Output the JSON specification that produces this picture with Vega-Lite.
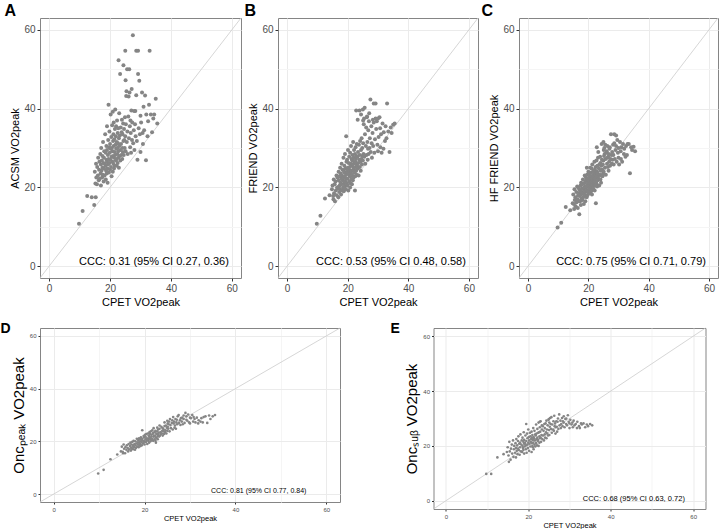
{
"$schema": "https://vega.github.io/schema/vega-lite/v6.json",
"padding": {"left": 0, "top": 2, "right": 0, "bottom": 0},
"background": "white",
"spacing": 13,
"config": {
  "font": "Liberation Sans",
  "view": {"stroke": "#858585", "strokeWidth": 1},
  "axis": {"domain": false, "labelColor": "#4d4d4d", "titleColor": "#000000", "titleFontWeight": "normal", "tickColor": "#333333", "grid": true, "labelFont": "Liberation Sans", "titleFont": "Liberation Sans"},
  "title": {"fontWeight": "bold", "color": "#000000", "font": "Liberation Sans"}
},
"datasets": {"d": [
{"cpet":9.8,"acsm":10.8,"friend":10.8,"hf":9.8,"oncpeak":7.8,"oncsub":9.8},
{"cpet":11.0,"acsm":14.0,"friend":12.8,"hf":11.0,"oncpeak":9.2,"oncsub":9.8},
{"cpet":12.5,"acsm":17.8,"friend":17.2,"hf":15.0,"oncpeak":13.2,"oncsub":15.8},
{"cpet":14.0,"acsm":17.5,"friend":18.0,"hf":14.2,"oncpeak":15.0,"oncsub":17.0},
{"cpet":14.8,"acsm":15.5,"friend":19.5,"hf":16.0,"oncpeak":16.2,"oncsub":17.8},
{"cpet":15.3,"acsm":17.5,"friend":17.0,"hf":14.5,"oncpeak":15.5,"oncsub":14.2},
{"cpet":15.0,"acsm":24.0,"friend":20.5,"hf":18.2,"oncpeak":18.0,"oncsub":19.5},
{"cpet":15.2,"acsm":21.0,"friend":17.8,"hf":15.8,"oncpeak":16.0,"oncsub":16.5},
{"cpet":15.4,"acsm":26.0,"friend":22.0,"hf":19.5,"oncpeak":18.8,"oncsub":21.5},
{"cpet":15.5,"acsm":22.5,"friend":18.5,"hf":16.8,"oncpeak":17.2,"oncsub":18.0},
{"cpet":15.7,"acsm":20.8,"friend":20.8,"hf":17.5,"oncpeak":15.5,"oncsub":15.0},
{"cpet":15.8,"acsm":25.2,"friend":16.5,"hf":15.2,"oncpeak":17.8,"oncsub":19.0},
{"cpet":16.0,"acsm":23.0,"friend":21.5,"hf":18.8,"oncpeak":16.8,"oncsub":20.5},
{"cpet":16.1,"acsm":27.5,"friend":19.2,"hf":16.2,"oncpeak":18.5,"oncsub":17.2},
{"cpet":16.3,"acsm":21.8,"friend":23.0,"hf":20.2,"oncpeak":17.5,"oncsub":22.0},
{"cpet":16.4,"acsm":24.5,"friend":18.0,"hf":17.0,"oncpeak":16.2,"oncsub":16.0},
{"cpet":16.5,"acsm":26.5,"friend":20.0,"hf":14.8,"oncpeak":19.0,"oncsub":18.8},
{"cpet":16.6,"acsm":22.2,"friend":22.5,"hf":18.0,"oncpeak":17.0,"oncsub":20.0},
{"cpet":16.8,"acsm":28.5,"friend":19.8,"hf":19.8,"oncpeak":18.2,"oncsub":17.5},
{"cpet":16.9,"acsm":23.5,"friend":17.5,"hf":16.5,"oncpeak":19.5,"oncsub":21.0},
{"cpet":17.0,"acsm":25.8,"friend":21.8,"hf":13.2,"oncpeak":17.6,"oncsub":19.2},
{"cpet":17.0,"acsm":20.5,"friend":24.0,"hf":18.5,"oncpeak":16.5,"oncsub":15.8},
{"cpet":17.1,"acsm":30.0,"friend":20.2,"hf":17.8,"oncpeak":18.8,"oncsub":22.5},
{"cpet":17.2,"acsm":24.2,"friend":18.8,"hf":19.2,"oncpeak":17.2,"oncsub":18.2},
{"cpet":17.3,"acsm":26.8,"friend":22.8,"hf":16.5,"oncpeak":19.8,"oncsub":20.2},
{"cpet":17.4,"acsm":22.5,"friend":20.5,"hf":20.5,"oncpeak":18.0,"oncsub":17.0},
{"cpet":17.5,"acsm":28.0,"friend":25.0,"hf":18.2,"oncpeak":17.0,"oncsub":21.8},
{"cpet":17.5,"acsm":25.0,"friend":19.5,"hf":15.5,"oncpeak":18.6,"oncsub":19.0},
{"cpet":17.6,"acsm":23.2,"friend":21.2,"hf":21.2,"oncpeak":20.2,"oncsub":23.5},
{"cpet":17.7,"acsm":31.5,"friend":23.5,"hf":18.8,"oncpeak":17.8,"oncsub":18.5},
{"cpet":17.8,"acsm":26.2,"friend":18.2,"hf":17.2,"oncpeak":19.0,"oncsub":20.8},
{"cpet":17.9,"acsm":21.5,"friend":22.2,"hf":19.8,"oncpeak":16.8,"oncsub":16.8},
{"cpet":18.0,"acsm":27.5,"friend":26.0,"hf":16.8,"oncpeak":18.5,"oncsub":21.2},
{"cpet":18.0,"acsm":24.8,"friend":20.8,"hf":20.8,"oncpeak":20.0,"oncsub":19.5},
{"cpet":18.1,"acsm":29.2,"friend":23.0,"hf":18.5,"oncpeak":17.5,"oncsub":24.2},
{"cpet":18.2,"acsm":23.0,"friend":19.2,"hf":22.0,"oncpeak":19.2,"oncsub":18.0},
{"cpet":18.3,"acsm":26.0,"friend":24.5,"hf":17.5,"oncpeak":21.0,"oncsub":20.5},
{"cpet":18.4,"acsm":33.5,"friend":21.8,"hf":19.5,"oncpeak":18.0,"oncsub":22.0},
{"cpet":18.5,"acsm":25.5,"friend":20.0,"hf":15.8,"oncpeak":19.6,"oncsub":17.8},
{"cpet":18.6,"acsm":22.0,"friend":27.5,"hf":21.0,"oncpeak":18.8,"oncsub":20.0},
{"cpet":18.6,"acsm":28.8,"friend":22.5,"hf":18.2,"oncpeak":20.5,"oncsub":23.0},
{"cpet":18.7,"acsm":24.2,"friend":19.0,"hf":20.0,"oncpeak":17.8,"oncsub":19.2},
{"cpet":18.8,"acsm":30.5,"friend":24.0,"hf":23.0,"oncpeak":19.5,"oncsub":21.5},
{"cpet":18.8,"acsm":27.0,"friend":21.0,"hf":17.8,"oncpeak":21.2,"oncsub":18.5},
{"cpet":18.9,"acsm":23.5,"friend":25.5,"hf":19.0,"oncpeak":18.5,"oncsub":25.0},
{"cpet":19.0,"acsm":35.5,"friend":22.8,"hf":21.5,"oncpeak":20.0,"oncsub":20.8},
{"cpet":19.0,"acsm":26.5,"friend":20.2,"hf":16.5,"oncpeak":19.0,"oncsub":17.2},
{"cpet":19.0,"acsm":29.5,"friend":23.8,"hf":20.2,"oncpeak":20.8,"oncsub":22.2},
{"cpet":19.1,"acsm":24.8,"friend":28.5,"hf":18.8,"oncpeak":18.2,"oncsub":19.8},
{"cpet":19.2,"acsm":21.2,"friend":21.5,"hf":22.5,"oncpeak":21.5,"oncsub":21.0},
{"cpet":19.3,"acsm":28.2,"friend":24.8,"hf":20.0,"oncpeak":19.8,"oncsub":23.8},
{"cpet":19.4,"acsm":32.0,"friend":22.2,"hf":17.5,"oncpeak":20.5,"oncsub":18.8},
{"cpet":19.4,"acsm":25.8,"friend":19.5,"hf":21.8,"oncpeak":18.5,"oncsub":20.2},
{"cpet":19.5,"acsm":41.0,"friend":33.0,"hf":25.0,"oncpeak":24.2,"oncsub":28.0},
{"cpet":19.5,"acsm":27.2,"friend":23.2,"hf":19.2,"oncpeak":21.0,"oncsub":21.8},
{"cpet":19.6,"acsm":23.8,"friend":26.5,"hf":23.2,"oncpeak":19.2,"oncsub":17.5},
{"cpet":19.7,"acsm":30.2,"friend":21.0,"hf":18.0,"oncpeak":20.2,"oncsub":24.5},
{"cpet":19.8,"acsm":26.2,"friend":24.0,"hf":20.8,"oncpeak":22.0,"oncsub":20.5},
{"cpet":19.8,"acsm":34.2,"friend":27.0,"hf":22.2,"oncpeak":19.5,"oncsub":22.8},
{"cpet":19.9,"acsm":28.8,"friend":20.5,"hf":19.0,"oncpeak":21.5,"oncsub":19.2},
{"cpet":20.0,"acsm":24.5,"friend":25.0,"hf":21.2,"oncpeak":20.0,"oncsub":26.0},
{"cpet":20.0,"acsm":31.0,"friend":22.2,"hf":24.0,"oncpeak":18.8,"oncsub":21.2},
{"cpet":20.1,"acsm":27.0,"friend":29.5,"hf":20.2,"oncpeak":22.5,"oncsub":23.2},
{"cpet":20.2,"acsm":38.5,"friend":23.8,"hf":18.5,"oncpeak":20.8,"oncsub":18.2},
{"cpet":20.2,"acsm":29.8,"friend":19.2,"hf":21.8,"oncpeak":21.8,"oncsub":22.0},
{"cpet":20.3,"acsm":25.2,"friend":26.2,"hf":23.5,"oncpeak":19.8,"oncsub":20.8},
{"cpet":20.4,"acsm":32.8,"friend":24.5,"hf":19.5,"oncpeak":22.8,"oncsub":24.8},
{"cpet":20.5,"acsm":27.8,"friend":21.5,"hf":22.8,"oncpeak":20.5,"oncsub":19.8},
{"cpet":20.5,"acsm":22.8,"friend":27.8,"hf":20.5,"oncpeak":21.2,"oncsub":23.5},
{"cpet":20.6,"acsm":30.0,"friend":23.0,"hf":25.0,"oncpeak":19.0,"oncsub":21.5},
{"cpet":20.7,"acsm":35.8,"friend":25.2,"hf":21.0,"oncpeak":23.0,"oncsub":22.5},
{"cpet":20.8,"acsm":26.5,"friend":20.0,"hf":18.8,"oncpeak":21.0,"oncsub":17.8},
{"cpet":20.8,"acsm":29.2,"friend":28.8,"hf":22.2,"oncpeak":20.2,"oncsub":25.2},
{"cpet":20.9,"acsm":39.2,"friend":24.2,"hf":20.0,"oncpeak":22.2,"oncsub":21.0},
{"cpet":20.9,"acsm":24.0,"friend":22.8,"hf":23.8,"oncpeak":20.8,"oncsub":23.0},
{"cpet":21.0,"acsm":31.8,"friend":26.0,"hf":21.5,"oncpeak":22.0,"oncsub":20.0},
{"cpet":21.0,"acsm":28.0,"friend":21.0,"hf":19.2,"oncpeak":19.5,"oncsub":24.0},
{"cpet":21.1,"acsm":33.5,"friend":30.5,"hf":24.8,"oncpeak":23.5,"oncsub":22.2},
{"cpet":21.1,"acsm":26.0,"friend":23.5,"hf":20.8,"oncpeak":21.5,"oncsub":19.5},
{"cpet":21.2,"acsm":30.5,"friend":25.5,"hf":22.8,"oncpeak":20.8,"oncsub":26.5},
{"cpet":21.2,"acsm":36.5,"friend":22.0,"hf":18.2,"oncpeak":22.8,"oncsub":21.2},
{"cpet":21.3,"acsm":27.5,"friend":27.2,"hf":21.2,"oncpeak":21.2,"oncsub":23.2},
{"cpet":21.3,"acsm":24.8,"friend":24.2,"hf":25.8,"oncpeak":20.0,"oncsub":18.8},
{"cpet":21.4,"acsm":32.2,"friend":20.8,"hf":20.5,"oncpeak":23.8,"oncsub":22.8},
{"cpet":21.5,"acsm":29.0,"friend":26.8,"hf":23.0,"oncpeak":21.8,"oncsub":20.5},
{"cpet":21.5,"acsm":25.5,"friend":23.0,"hf":21.8,"oncpeak":22.5,"oncsub":25.5},
{"cpet":21.6,"acsm":34.8,"friend":28.2,"hf":19.8,"oncpeak":20.5,"oncsub":22.0},
{"cpet":21.7,"acsm":28.2,"friend":21.8,"hf":24.2,"oncpeak":24.2,"oncsub":24.2},
{"cpet":21.7,"acsm":39.8,"friend":25.8,"hf":22.5,"oncpeak":21.0,"oncsub":19.8},
{"cpet":21.8,"acsm":30.8,"friend":31.5,"hf":20.8,"oncpeak":22.8,"oncsub":23.8},
{"cpet":21.9,"acsm":26.8,"friend":24.5,"hf":23.5,"oncpeak":20.2,"oncsub":27.8},
{"cpet":21.9,"acsm":33.0,"friend":22.5,"hf":21.2,"oncpeak":23.2,"oncsub":21.0},
{"cpet":22.0,"acsm":29.8,"friend":27.5,"hf":26.5,"oncpeak":21.8,"oncsub":24.5},
{"cpet":22.0,"acsm":35.5,"friend":25.0,"hf":22.0,"oncpeak":25.0,"oncsub":22.5},
{"cpet":22.1,"acsm":27.2,"friend":29.5,"hf":19.2,"oncpeak":22.0,"oncsub":20.2},
{"cpet":22.2,"acsm":31.5,"friend":23.8,"hf":24.5,"oncpeak":20.8,"oncsub":26.2},
{"cpet":22.2,"acsm":25.5,"friend":26.2,"hf":21.5,"oncpeak":23.5,"oncsub":23.0},
{"cpet":22.3,"acsm":37.0,"friend":24.0,"hf":23.2,"oncpeak":22.2,"oncsub":21.8},
{"cpet":22.4,"acsm":30.0,"friend":19.2,"hf":20.5,"oncpeak":20.2,"oncsub":24.8},
{"cpet":22.4,"acsm":28.5,"friend":28.5,"hf":25.2,"oncpeak":24.0,"oncsub":22.2},
{"cpet":22.5,"acsm":33.8,"friend":26.5,"hf":22.5,"oncpeak":21.5,"oncsub":28.5},
{"cpet":22.5,"acsm":26.2,"friend":22.8,"hf":16.0,"oncpeak":19.5,"oncsub":20.0},
{"cpet":22.6,"acsm":31.2,"friend":30.2,"hf":23.8,"oncpeak":23.0,"oncsub":25.0},
{"cpet":22.7,"acsm":29.2,"friend":25.2,"hf":21.0,"oncpeak":22.8,"oncsub":23.5},
{"cpet":22.7,"acsm":35.0,"friend":27.2,"hf":26.8,"oncpeak":21.2,"oncsub":21.2},
{"cpet":22.8,"acsm":52.3,"friend":39.5,"hf":30.2,"oncpeak":25.2,"oncsub":28.8},
{"cpet":22.8,"acsm":27.5,"friend":24.2,"hf":22.8,"oncpeak":23.8,"oncsub":26.8},
{"cpet":22.9,"acsm":32.5,"friend":28.0,"hf":24.0,"oncpeak":22.0,"oncsub":22.8},
{"cpet":22.9,"acsm":25.0,"friend":23.2,"hf":20.2,"oncpeak":20.8,"oncsub":25.2},
{"cpet":23.0,"acsm":38.8,"friend":26.0,"hf":23.5,"oncpeak":24.5,"oncsub":23.0},
{"cpet":23.0,"acsm":30.5,"friend":31.0,"hf":25.5,"oncpeak":22.5,"oncsub":29.0},
{"cpet":23.1,"acsm":28.0,"friend":25.5,"hf":21.8,"oncpeak":23.2,"oncsub":21.5},
{"cpet":23.2,"acsm":33.2,"friend":27.8,"hf":27.5,"oncpeak":21.8,"oncsub":24.0},
{"cpet":23.3,"acsm":48.8,"friend":37.2,"hf":29.0,"oncpeak":26.0,"oncsub":27.5},
{"cpet":23.3,"acsm":29.5,"friend":24.8,"hf":23.0,"oncpeak":24.8,"oncsub":26.0},
{"cpet":23.4,"acsm":26.8,"friend":29.0,"hf":22.2,"oncpeak":22.2,"oncsub":22.5},
{"cpet":23.5,"acsm":35.2,"friend":26.2,"hf":24.8,"oncpeak":23.5,"oncsub":27.2},
{"cpet":23.6,"acsm":31.0,"friend":23.0,"hf":20.5,"oncpeak":22.8,"oncsub":23.8},
{"cpet":23.7,"acsm":28.2,"friend":30.8,"hf":25.8,"oncpeak":25.5,"oncsub":25.5},
{"cpet":23.8,"acsm":34.0,"friend":27.0,"hf":23.2,"oncpeak":23.0,"oncsub":22.0},
{"cpet":23.9,"acsm":37.2,"friend":39.5,"hf":27.8,"oncpeak":24.0,"oncsub":28.0},
{"cpet":24.0,"acsm":30.0,"friend":25.2,"hf":22.0,"oncpeak":22.2,"oncsub":26.5},
{"cpet":24.0,"acsm":27.2,"friend":28.2,"hf":26.2,"oncpeak":25.0,"oncsub":24.2},
{"cpet":24.1,"acsm":33.5,"friend":31.8,"hf":24.2,"oncpeak":23.8,"oncsub":23.0},
{"cpet":24.2,"acsm":29.0,"friend":26.5,"hf":21.2,"oncpeak":24.5,"oncsub":28.2},
{"cpet":24.3,"acsm":36.2,"friend":24.2,"hf":25.5,"oncpeak":22.8,"oncsub":25.0},
{"cpet":24.4,"acsm":31.8,"friend":29.5,"hf":23.0,"oncpeak":25.8,"oncsub":22.8},
{"cpet":24.4,"acsm":51.0,"friend":38.5,"hf":31.0,"oncpeak":27.2,"oncsub":29.2},
{"cpet":24.5,"acsm":28.2,"friend":27.2,"hf":27.0,"oncpeak":23.5,"oncsub":26.0},
{"cpet":24.6,"acsm":34.8,"friend":32.5,"hf":24.5,"oncpeak":24.2,"oncsub":24.5},
{"cpet":24.7,"acsm":32.0,"friend":25.8,"hf":22.8,"oncpeak":26.0,"oncsub":27.5},
{"cpet":24.8,"acsm":30.0,"friend":30.0,"hf":25.8,"oncpeak":23.0,"oncsub":23.8},
{"cpet":24.9,"acsm":37.8,"friend":28.0,"hf":23.5,"oncpeak":25.2,"oncsub":29.5},
{"cpet":25.0,"acsm":54.7,"friend":39.8,"hf":31.5,"oncpeak":27.8,"oncsub":29.8},
{"cpet":25.0,"acsm":33.0,"friend":26.8,"hf":26.8,"oncpeak":24.0,"oncsub":25.8},
{"cpet":25.1,"acsm":47.2,"friend":37.0,"hf":29.5,"oncpeak":26.8,"oncsub":28.5},
{"cpet":25.1,"acsm":29.2,"friend":31.2,"hf":24.0,"oncpeak":25.5,"oncsub":24.0},
{"cpet":25.2,"acsm":36.0,"friend":28.5,"hf":28.0,"oncpeak":24.8,"oncsub":27.0},
{"cpet":25.3,"acsm":43.2,"friend":36.0,"hf":30.0,"oncpeak":26.5,"oncsub":30.2},
{"cpet":25.4,"acsm":44.4,"friend":37.5,"hf":28.5,"oncpeak":27.5,"oncsub":28.0},
{"cpet":25.5,"acsm":31.5,"friend":27.8,"hf":25.0,"oncpeak":23.8,"oncsub":26.2},
{"cpet":25.6,"acsm":50.0,"friend":40.2,"hf":30.8,"oncpeak":28.5,"oncsub":30.5},
{"cpet":25.7,"acsm":34.2,"friend":33.5,"hf":27.2,"oncpeak":26.2,"oncsub":24.8},
{"cpet":25.8,"acsm":28.5,"friend":26.0,"hf":23.2,"oncpeak":25.0,"oncsub":27.8},
{"cpet":26.0,"acsm":38.0,"friend":30.5,"hf":28.8,"oncpeak":27.0,"oncsub":26.0},
{"cpet":26.1,"acsm":43.1,"friend":35.2,"hf":29.2,"oncpeak":28.0,"oncsub":29.0},
{"cpet":26.2,"acsm":32.5,"friend":28.2,"hf":26.0,"oncpeak":24.5,"oncsub":25.5},
{"cpet":26.3,"acsm":50.0,"friend":37.8,"hf":30.5,"oncpeak":29.2,"oncsub":31.0},
{"cpet":26.4,"acsm":44.1,"friend":38.0,"hf":27.5,"oncpeak":26.8,"oncsub":27.2},
{"cpet":26.5,"acsm":35.5,"friend":31.5,"hf":25.2,"oncpeak":27.5,"oncsub":28.2},
{"cpet":26.6,"acsm":30.2,"friend":27.0,"hf":27.8,"oncpeak":25.2,"oncsub":24.5},
{"cpet":26.7,"acsm":37.0,"friend":29.8,"hf":24.2,"oncpeak":26.0,"oncsub":26.8},
{"cpet":26.8,"acsm":33.8,"friend":34.5,"hf":28.5,"oncpeak":28.5,"oncsub":29.0},
{"cpet":26.9,"acsm":28.8,"friend":28.5,"hf":26.5,"oncpeak":24.8,"oncsub":27.0},
{"cpet":27.0,"acsm":39.5,"friend":36.8,"hf":29.8,"oncpeak":27.2,"oncsub":25.2},
{"cpet":27.1,"acsm":45.0,"friend":38.8,"hf":30.2,"oncpeak":28.2,"oncsub":28.8},
{"cpet":27.2,"acsm":32.0,"friend":30.0,"hf":25.5,"oncpeak":26.5,"oncsub":30.0},
{"cpet":27.3,"acsm":36.5,"friend":32.5,"hf":27.2,"oncpeak":29.5,"oncsub":26.2},
{"cpet":27.5,"acsm":58.6,"friend":42.3,"hf":33.5,"oncpeak":30.0,"oncsub":31.5},
{"cpet":27.6,"acsm":31.2,"friend":29.0,"hf":28.2,"oncpeak":27.0,"oncsub":27.5},
{"cpet":27.8,"acsm":34.5,"friend":35.5,"hf":26.0,"oncpeak":28.0,"oncsub":29.2},
{"cpet":27.9,"acsm":39.4,"friend":31.2,"hf":29.0,"oncpeak":26.2,"oncsub":26.5},
{"cpet":28.0,"acsm":29.5,"friend":27.5,"hf":27.0,"oncpeak":28.8,"oncsub":28.0},
{"cpet":28.2,"acsm":36.0,"friend":33.8,"hf":30.8,"oncpeak":27.5,"oncsub":30.2},
{"cpet":28.3,"acsm":39.4,"friend":37.2,"hf":28.2,"oncpeak":29.0,"oncsub":27.2},
{"cpet":28.4,"acsm":33.0,"friend":30.5,"hf":25.8,"oncpeak":26.5,"oncsub":29.0},
{"cpet":28.6,"acsm":54.7,"friend":41.3,"hf":33.5,"oncpeak":29.8,"oncsub":30.8},
{"cpet":28.6,"acsm":43.4,"friend":36.5,"hf":31.2,"oncpeak":28.5,"oncsub":28.5},
{"cpet":28.8,"acsm":31.8,"friend":28.8,"hf":27.2,"oncpeak":27.0,"oncsub":26.8},
{"cpet":29.0,"acsm":27.0,"friend":32.2,"hf":29.5,"oncpeak":30.8,"oncsub":29.8},
{"cpet":29.2,"acsm":54.7,"friend":41.3,"hf":33.2,"oncpeak":29.5,"oncsub":30.0},
{"cpet":29.2,"acsm":48.8,"friend":37.5,"hf":30.5,"oncpeak":28.2,"oncsub":28.0},
{"cpet":29.4,"acsm":35.0,"friend":34.8,"hf":26.5,"oncpeak":27.8,"oncsub":27.5},
{"cpet":29.6,"acsm":47.1,"friend":36.8,"hf":32.0,"oncpeak":30.2,"oncsub":31.2},
{"cpet":29.8,"acsm":33.5,"friend":30.8,"hf":28.8,"oncpeak":27.2,"oncsub":28.8},
{"cpet":30.0,"acsm":38.2,"friend":37.5,"hf":30.0,"oncpeak":29.0,"oncsub":26.5},
{"cpet":30.0,"acsm":29.0,"friend":29.2,"hf":27.5,"oncpeak":26.8,"oncsub":28.2},
{"cpet":30.2,"acsm":36.5,"friend":32.8,"hf":25.8,"oncpeak":28.8,"oncsub":29.5},
{"cpet":30.5,"acsm":44.1,"friend":37.8,"hf":31.5,"oncpeak":30.0,"oncsub":27.8},
{"cpet":30.7,"acsm":33.8,"friend":35.0,"hf":29.2,"oncpeak":27.5,"oncsub":28.5},
{"cpet":30.8,"acsm":31.0,"friend":30.2,"hf":27.2,"oncpeak":29.2,"oncsub":26.8},
{"cpet":31.0,"acsm":40.5,"friend":33.5,"hf":30.2,"oncpeak":28.5,"oncsub":29.2},
{"cpet":31.2,"acsm":34.5,"friend":28.8,"hf":26.5,"oncpeak":27.2,"oncsub":27.5},
{"cpet":31.5,"acsm":43.3,"friend":36.2,"hf":31.0,"oncpeak":29.0,"oncsub":28.0},
{"cpet":31.8,"acsm":26.9,"friend":29.8,"hf":28.5,"oncpeak":26.8,"oncsub":26.5},
{"cpet":31.9,"acsm":38.5,"friend":34.0,"hf":29.8,"oncpeak":28.0,"oncsub":28.8},
{"cpet":32.3,"acsm":33.0,"friend":31.8,"hf":27.8,"oncpeak":27.5,"oncsub":27.2},
{"cpet":32.5,"acsm":36.8,"friend":35.5,"hf":30.5,"oncpeak":28.8,"oncsub":26.5},
{"cpet":32.8,"acsm":41.0,"friend":32.5,"hf":28.2,"oncpeak":27.2,"oncsub":28.2},
{"cpet":33.0,"acsm":54.7,"friend":41.3,"hf":31.0,"oncpeak":29.2,"oncsub":27.8},
{"cpet":33.4,"acsm":38.5,"friend":34.2,"hf":31.0,"oncpeak":29.5,"oncsub":28.2},
{"cpet":33.8,"acsm":34.0,"friend":29.0,"hf":23.6,"oncpeak":27.0,"oncsub":26.8},
{"cpet":34.2,"acsm":37.5,"friend":35.2,"hf":30.2,"oncpeak":29.8,"oncsub":27.8},
{"cpet":34.5,"acsm":38.5,"friend":33.8,"hf":29.5,"oncpeak":28.5,"oncsub":27.2},
{"cpet":35.0,"acsm":42.5,"friend":35.9,"hf":30.3,"oncpeak":29.5,"oncsub":28.0},
{"cpet":35.5,"acsm":36.2,"friend":36.2,"hf":29.2,"oncpeak":30.0,"oncsub":27.5}
]},
"vconcat": [
{"hconcat": [
 {"width": 201, "height": 260,
  "title": {"text": "A", "fontSize": 16, "anchor": "start", "frame": "group", "offset": -1, "dx": -35.5},
  "layer": [
   {"data": {"values": [{}]}, "mark": {"type": "rule", "color": "#cccccc", "strokeWidth": 0.8},
    "encoding": {"x": {"datum": -3, "type": "quantitative"}, "y": {"datum": -3, "type": "quantitative"}, "x2": {"datum": 63}, "y2": {"datum": 63}}},
   {"data": {"name": "d"}, "mark": {"type": "circle", "size": 16, "color": "#858585", "opacity": 1},
    "encoding": {
     "x": {"field": "cpet", "type": "quantitative", "scale": {"domain": [-3, 63], "nice": false, "zero": false},
       "axis": {"title": "CPET VO2peak", "values": [0,10,20,30,40,50,60], "labelExpr": "datum.value % 20 === 0 ? datum.label : ''", "titleFontSize": 11, "labelFontSize": 10, "tickSize": 3, "labelPadding": 2, "titlePadding": 3,
        "gridColor": {"condition": {"test": "datum.value % 20 === 0", "value": "#ebebeb"}, "value": "#f5f5f5"},
        "tickOpacity": {"condition": {"test": "datum.value % 20 === 0", "value": 1}, "value": 0}}},
     "y": {"field": "acsm", "type": "quantitative", "scale": {"domain": [-3, 63], "nice": false, "zero": false},
       "axis": {"title": "ACSM VO2peak", "values": [0,10,20,30,40,50,60], "labelExpr": "datum.value % 20 === 0 ? datum.label : ''", "titleFontSize": 11, "labelFontSize": 10, "tickSize": 3, "labelPadding": 2, "titlePadding": 3,
        "gridColor": {"condition": {"test": "datum.value % 20 === 0", "value": "#ebebeb"}, "value": "#f5f5f5"},
        "tickOpacity": {"condition": {"test": "datum.value % 20 === 0", "value": 1}, "value": 0}}}}},
   {"data": {"values": [{}]}, "mark": {"type": "text", "align": "right", "baseline": "middle", "fontSize": 11, "color": "#000000"},
    "encoding": {"x": {"datum": 59}, "y": {"datum": 1}, "text": {"value": "CCC: 0.31 (95% CI 0.27, 0.36)"}}}
  ]},
 {"width": 200, "height": 260,
  "title": {"text": "B", "fontSize": 16, "anchor": "start", "frame": "group", "offset": -1, "dx": -33.5},
  "layer": [
   {"data": {"values": [{}]}, "mark": {"type": "rule", "color": "#cccccc", "strokeWidth": 0.8},
    "encoding": {"x": {"datum": -3, "type": "quantitative"}, "y": {"datum": -3, "type": "quantitative"}, "x2": {"datum": 63}, "y2": {"datum": 63}}},
   {"data": {"name": "d"}, "mark": {"type": "circle", "size": 16, "color": "#858585", "opacity": 1},
    "encoding": {
     "x": {"field": "cpet", "type": "quantitative", "scale": {"domain": [-3, 63], "nice": false, "zero": false},
       "axis": {"title": "CPET VO2peak", "values": [0,10,20,30,40,50,60], "labelExpr": "datum.value % 20 === 0 ? datum.label : ''", "titleFontSize": 11, "labelFontSize": 10, "tickSize": 3, "labelPadding": 2, "titlePadding": 3,
        "gridColor": {"condition": {"test": "datum.value % 20 === 0", "value": "#ebebeb"}, "value": "#f5f5f5"},
        "tickOpacity": {"condition": {"test": "datum.value % 20 === 0", "value": 1}, "value": 0}}},
     "y": {"field": "friend", "type": "quantitative", "scale": {"domain": [-3, 63], "nice": false, "zero": false},
       "axis": {"title": "FRIEND VO2peak", "values": [0,10,20,30,40,50,60], "labelExpr": "datum.value % 20 === 0 ? datum.label : ''", "titleFontSize": 11, "labelFontSize": 10, "tickSize": 3, "labelPadding": 2, "titlePadding": 3,
        "gridColor": {"condition": {"test": "datum.value % 20 === 0", "value": "#ebebeb"}, "value": "#f5f5f5"},
        "tickOpacity": {"condition": {"test": "datum.value % 20 === 0", "value": 1}, "value": 0}}}}},
   {"data": {"values": [{}]}, "mark": {"type": "text", "align": "right", "baseline": "middle", "fontSize": 11, "color": "#000000"},
    "encoding": {"x": {"datum": 59}, "y": {"datum": 1}, "text": {"value": "CCC: 0.53 (95% CI 0.48, 0.58)"}}}
  ]},
 {"width": 199, "height": 260,
  "title": {"text": "C", "fontSize": 16, "anchor": "start", "frame": "group", "offset": -1, "dx": -37.5},
  "layer": [
   {"data": {"values": [{}]}, "mark": {"type": "rule", "color": "#cccccc", "strokeWidth": 0.8},
    "encoding": {"x": {"datum": -3, "type": "quantitative"}, "y": {"datum": -3, "type": "quantitative"}, "x2": {"datum": 63}, "y2": {"datum": 63}}},
   {"data": {"name": "d"}, "mark": {"type": "circle", "size": 16, "color": "#858585", "opacity": 1},
    "encoding": {
     "x": {"field": "cpet", "type": "quantitative", "scale": {"domain": [-3, 63], "nice": false, "zero": false},
       "axis": {"title": "CPET VO2peak", "values": [0,10,20,30,40,50,60], "labelExpr": "datum.value % 20 === 0 ? datum.label : ''", "titleFontSize": 11, "labelFontSize": 10, "tickSize": 3, "labelPadding": 2, "titlePadding": 3,
        "gridColor": {"condition": {"test": "datum.value % 20 === 0", "value": "#ebebeb"}, "value": "#f5f5f5"},
        "tickOpacity": {"condition": {"test": "datum.value % 20 === 0", "value": 1}, "value": 0}}},
     "y": {"field": "hf", "type": "quantitative", "scale": {"domain": [-3, 63], "nice": false, "zero": false},
       "axis": {"title": "HF FRIEND VO2peak", "values": [0,10,20,30,40,50,60], "labelExpr": "datum.value % 20 === 0 ? datum.label : ''", "titleFontSize": 11, "labelFontSize": 10, "tickSize": 3, "labelPadding": 2, "titlePadding": 3,
        "gridColor": {"condition": {"test": "datum.value % 20 === 0", "value": "#ebebeb"}, "value": "#f5f5f5"},
        "tickOpacity": {"condition": {"test": "datum.value % 20 === 0", "value": 1}, "value": 0}}}}},
   {"data": {"values": [{}]}, "mark": {"type": "text", "align": "right", "baseline": "middle", "fontSize": 11, "color": "#000000"},
    "encoding": {"x": {"datum": 59}, "y": {"datum": 1}, "text": {"value": "CCC: 0.75 (95% CI 0.71, 0.79)"}}}
  ]}
], "spacing": 2},
{"hconcat": [
 {"width": 300, "height": 174,
  "title": {"text": "D", "fontSize": 14, "anchor": "start", "frame": "group", "offset": -8, "dx": -39.5},
  "layer": [
   {"data": {"values": [{}]}, "mark": {"type": "rule", "color": "#cccccc", "strokeWidth": 0.8},
    "encoding": {"x": {"datum": -3, "type": "quantitative"}, "y": {"datum": -3, "type": "quantitative"}, "x2": {"datum": 63}, "y2": {"datum": 63}}},
   {"data": {"name": "d"}, "mark": {"type": "circle", "size": 7, "color": "#858585", "opacity": 1},
    "encoding": {
     "x": {"field": "cpet", "type": "quantitative", "scale": {"domain": [-3, 63], "nice": false, "zero": false},
       "axis": {"title": "CPET VO2peak", "values": [0,10,20,30,40,50,60], "labelExpr": "datum.value % 20 === 0 ? datum.label : ''", "titleFontSize": 7.5, "labelFontSize": 6, "tickSize": 2, "labelPadding": 2, "titlePadding": 2,
        "gridColor": {"condition": {"test": "datum.value % 20 === 0", "value": "#ebebeb"}, "value": "#f5f5f5"},
        "tickOpacity": {"condition": {"test": "datum.value % 20 === 0", "value": 1}, "value": 0}}},
     "y": {"field": "oncpeak", "type": "quantitative", "scale": {"domain": [-3, 63], "nice": false, "zero": false},
       "axis": {"title": "Oncₚₑₐₖ VO2peak", "values": [0,10,20,30,40,50,60], "labelExpr": "datum.value % 20 === 0 ? datum.label : ''", "titleFontSize": 15, "labelFontSize": 6, "tickSize": 2, "labelPadding": 2, "titlePadding": 3,
        "gridColor": {"condition": {"test": "datum.value % 20 === 0", "value": "#ebebeb"}, "value": "#f5f5f5"},
        "tickOpacity": {"condition": {"test": "datum.value % 20 === 0", "value": 1}, "value": 0}}}}},
   {"data": {"values": [{}]}, "mark": {"type": "text", "align": "right", "baseline": "middle", "fontSize": 7, "color": "#000000"},
    "encoding": {"x": {"datum": 55.6}, "y": {"datum": 1.1}, "text": {"value": "CCC: 0.81 (95% CI 0.77, 0.84)"}}}
  ]},
 {"width": 272, "height": 181,
  "title": {"text": "E", "fontSize": 14, "anchor": "start", "frame": "group", "offset": -8, "dx": -43},
  "layer": [
   {"data": {"values": [{}]}, "mark": {"type": "rule", "color": "#cccccc", "strokeWidth": 0.8},
    "encoding": {"x": {"datum": -3, "type": "quantitative"}, "y": {"datum": -3, "type": "quantitative"}, "x2": {"datum": 63}, "y2": {"datum": 63}}},
   {"data": {"name": "d"}, "mark": {"type": "circle", "size": 7, "color": "#858585", "opacity": 1},
    "encoding": {
     "x": {"field": "cpet", "type": "quantitative", "scale": {"domain": [-3, 63], "nice": false, "zero": false},
       "axis": {"title": "CPET VO2peak", "values": [0,10,20,30,40,50,60], "labelExpr": "datum.value % 20 === 0 ? datum.label : ''", "titleFontSize": 7.5, "labelFontSize": 6, "tickSize": 2, "labelPadding": 2, "titlePadding": 2,
        "gridColor": {"condition": {"test": "datum.value % 20 === 0", "value": "#ebebeb"}, "value": "#f5f5f5"},
        "tickOpacity": {"condition": {"test": "datum.value % 20 === 0", "value": 1}, "value": 0}}},
     "y": {"field": "oncsub", "type": "quantitative", "scale": {"domain": [-3, 63], "nice": false, "zero": false},
       "axis": {"title": "Oncₛᵤᵦ VO2peak", "values": [0,10,20,30,40,50,60], "labelExpr": "datum.value % 20 === 0 ? datum.label : ''", "titleFontSize": 15, "labelFontSize": 6, "tickSize": 2, "labelPadding": 2, "titlePadding": 3,
        "gridColor": {"condition": {"test": "datum.value % 20 === 0", "value": "#ebebeb"}, "value": "#f5f5f5"},
        "tickOpacity": {"condition": {"test": "datum.value % 20 === 0", "value": 1}, "value": 0}}}}},
   {"data": {"values": [{}]}, "mark": {"type": "text", "align": "right", "baseline": "middle", "fontSize": 7.5, "color": "#000000"},
    "encoding": {"x": {"datum": 58}, "y": {"datum": 0.6}, "text": {"value": "CCC: 0.68 (95% CI 0.63, 0.72)"}}}
  ]}
], "spacing": 48.5}
]
}
